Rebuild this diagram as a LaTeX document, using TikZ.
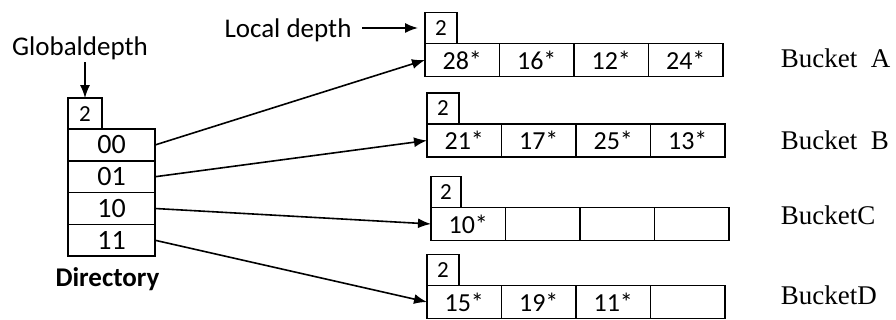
\documentclass[tikz,border=0pt]{standalone}
\usepackage{fontspec}
\setmainfont{Liberation Serif}
\newfontfamily\calibri{Carlito}
\usetikzlibrary{positioning,arrows.meta}

\tikzset{
  cell/.style={draw, line width=1.7pt, minimum width=74.5pt, minimum height=33pt,
    inner sep=0pt, outer sep=0pt, font=\calibri\fontsize{26}{26}\selectfont},
  dircell/.style={cell, minimum width=87pt, minimum height=31.75pt,
    font=\calibri\fontsize{28}{28}\selectfont},
  depthbox/.style={draw, line width=1.7pt, minimum width=32pt, minimum height=31pt,
    inner sep=0pt, outer sep=0pt, font=\calibri\fontsize{23}{23}\selectfont},
  note/.style={inner sep=2pt, font=\calibri\fontsize{27}{27}\selectfont},
  bucketname/.style={anchor=west, inner sep=2pt, font=\fontsize{27}{27}\selectfont}
}

\begin{document}
\begin{tikzpicture}[x=1pt, y=1pt, >={Latex[length=13pt,width=10pt]}, line width=1.6pt]
  \useasboundingbox (0,0) rectangle (896,320);

  % directory
  \node[dircell, anchor=west] (d00) at (68,175) {00};
  \node[dircell, below=0pt of d00] (d01) {01};
  \node[dircell, below=0pt of d01] (d10) {10};
  \node[dircell, below=0pt of d10] (d11) {11};
  \node[depthbox, minimum width=34pt, above right=0pt and 0pt of d00.north west] (gb) {2};
  \node[note, font=\calibri\bfseries\fontsize{27}{27}\selectfont, below=9pt of d11, xshift=-4pt] (dir) {Directory};
  \node[note] (gd) at (80,272) {Globaldepth};
  \draw[->] (gb.north |- gd.south) -- (gb.north);

  % bucket A
  \node[cell, anchor=west] (a1) at (425,260) {28*};
  \node[cell, right=0pt of a1] (a2) {16*};
  \node[cell, right=0pt of a2] (a3) {12*};
  \node[cell, right=0pt of a3] (a4) {24*};
  \node[depthbox, above right=0pt and 0pt of a1.north west] (la) {2};
  \node[bucketname] (na) at (778,262) {Bucket~~A};

  % bucket B
  \node[cell, anchor=west] (b1) at (427,179.5) {21*};
  \node[cell, right=0pt of b1] (b2) {17*};
  \node[cell, right=0pt of b2] (b3) {25*};
  \node[cell, right=0pt of b3] (b4) {13*};
  \node[depthbox, above right=0pt and 0pt of b1.north west] (lb) {2};
  \node[bucketname] (nb) at (778,180) {Bucket~~B};

  % bucket C
  \node[cell, anchor=west] (c1) at (431,96) {10*};
  \node[cell, right=0pt of c1] (c2) {};
  \node[cell, right=0pt of c2] (c3) {};
  \node[cell, right=0pt of c3] (c4) {};
  \node[depthbox, minimum width=30pt, above right=0pt and 0pt of c1.north west] (lc) {2};
  \node[bucketname] (nc) at (778,105) {BucketC};

  % bucket D
  \node[cell, anchor=west] (d1) at (427,18) {15*};
  \node[cell, right=0pt of d1] (d2) {19*};
  \node[cell, right=0pt of d2] (d3) {11*};
  \node[cell, right=0pt of d3] (d4) {};
  \node[depthbox, above right=0pt and 0pt of d1.north west] (ldd) {2};
  \node[bucketname] (nd) at (778,25) {BucketD};

  % local depth
  \node[note] (ld) at (288,290) {Local depth};
  \draw[->, shorten <=8pt, shorten >=7pt] (ld.east |- la.west) -- (la.west);

  \draw[->] (d00.east) -- (a1.west);
  \draw[->] (d01.east) -- (b1.west);
  \draw[->] (d10.east) -- (c1.west);
  \draw[->] (d11.east) -- (d1.west);
\end{tikzpicture}
\end{document}
